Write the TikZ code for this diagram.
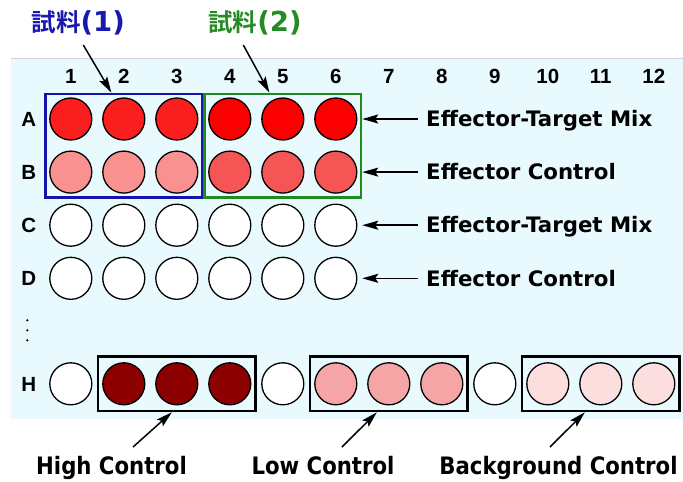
\documentclass[tikz,border=0pt]{standalone}
\usepackage{fontspec}
\setmainfont{DejaVu Sans}
\newfontfamily\cjk{Noto Sans CJK JP}[BoldFont={Noto Sans CJK JP Bold}]
\newfontfamily\labfont{Liberation Sans}
\newfontfamily\condfont{DejaVu Sans}[FakeStretch=0.885]
\usetikzlibrary{arrows.meta,fit}

\definecolor{platebg}{RGB}{232,250,254}
\definecolor{wellA}{RGB}{250,30,30}
\definecolor{wellAA}{RGB}{250,0,0}
\definecolor{wellB}{RGB}{250,145,145}
\definecolor{wellBB}{RGB}{245,85,85}
\definecolor{wellhigh}{RGB}{140,0,0}
\definecolor{welllow}{RGB}{245,165,165}
\definecolor{wellback}{RGB}{252,222,222}
\definecolor{boxblue}{RGB}{20,20,170}
\definecolor{boxgreen}{RGB}{30,140,30}
\definecolor{titleblue}{RGB}{25,25,175}
\definecolor{titlegreen}{RGB}{35,140,35}

\begin{document}
\begin{tikzpicture}[x=1pt,y=-1pt,
  well/.style={circle,draw=black,line width=1.3pt,minimum size=42pt,inner sep=0pt,fill=white},
  grpbox/.style={draw=#1,line width=2.2pt,inner sep=3.7pt},
  ctrlbox/.style={draw=black,line width=2.7pt,inner xsep=4.2pt,inner ysep=5.5pt},
  arr/.style={line width=1.5pt,-{Stealth[length=16pt,width=9pt,inset=3pt]}},
  collab/.style={font=\labfont\bfseries\fontsize{20.5}{20.5}\selectfont,anchor=base,inner sep=0pt},
  sidelab/.style={font=\bfseries\fontsize{21.3}{21.3}\selectfont,anchor=west,inner sep=0pt,text height=15.5pt,text depth=0pt},
  botlab/.style={font=\condfont\bfseries\fontsize{24}{24}\selectfont,anchor=base,inner sep=0pt},
  titlelab/.style={anchor=base,inner sep=0pt,text=#1},
]
\useasboundingbox (0,0) rectangle (683,482);

% plate background
\fill[platebg] (11,58) rectangle (683,419);
\draw[gray!35,line width=0.8pt] (11,58) -- (683,58);

% column numbers
\foreach \c in {1,...,12}
  \node[collab] (col\c) at ({70.8+53*(\c-1)},83) {\c};

% row letters
\node[collab] (rowA) at (28.8,126.3) {A};
\node[collab] (rowB) at (28.8,179.4) {B};
\node[collab] (rowC) at (28.8,232.5) {C};
\node[collab] (rowD) at (28.8,285.6) {D};
\node[collab] (rowH) at (28.8,391.1) {H};
\foreach \k/\yy in {1/320.3,2/330.3,3/340.3}
  \fill (27.3,\yy) circle (1.2pt);

% sample wells, rows A-D
\foreach \c in {1,2,3} {
  \node[well,fill=wellA] (A\c) at ({70.8+53*(\c-1)},119) {};
  \node[well,fill=wellB] (B\c) at ({70.8+53*(\c-1)},172.1) {};
}
\foreach \c in {4,5,6} {
  \node[well,fill=wellAA] (A\c) at ({70.8+53*(\c-1)},119) {};
  \node[well,fill=wellBB] (B\c) at ({70.8+53*(\c-1)},172.1) {};
}
\foreach \c in {1,...,6} {
  \node[well] (C\c) at ({70.8+53*(\c-1)},225.2) {};
  \node[well] (D\c) at ({70.8+53*(\c-1)},278.3) {};
}

% control wells, row H
\foreach \c/\col in {1/white,2/wellhigh,3/wellhigh,4/wellhigh,5/white,6/welllow,7/welllow,8/welllow,9/white,10/wellback,11/wellback,12/wellback}
  \node[well,fill=\col] (H\c) at ({70.8+53*(\c-1)},383.8) {};

% sample groups
\node[grpbox=boxblue,fit=(A1)(B3)] (grp1) {};
\node[grpbox=boxgreen,fit=(A4)(B6)] (grp2) {};

% control groups
\node[ctrlbox,fit=(H2)(H4)] (grpHigh) {};
\node[ctrlbox,fit=(H6)(H8)] (grpLow) {};
\node[ctrlbox,fit=(H10)(H12)] (grpBack) {};

% titles
\node[titlelab=titleblue] (t1) at (78.3,31.5)
  {{\cjk\bfseries\fontsize{24.5}{24.5}\selectfont 試料}{\bfseries\fontsize{27.5}{27.5}\selectfont (1)}};
\node[titlelab=titlegreen] (t2) at (255,31.5)
  {{\cjk\bfseries\fontsize{24.5}{24.5}\selectfont 試料}{\bfseries\fontsize{27.5}{27.5}\selectfont (2)}};
\draw[arr] ([xshift=5pt,yshift=-13.5pt]t1.base) -- ([xshift=67pt]grp1.north west);
\draw[arr] ([xshift=-11.7pt,yshift=-13.5pt]t2.base) -- ([xshift=66pt]grp2.north west);

% row descriptions
\node[sidelab] (lblA) at (426,119) {Effector-Target Mix};
\node[sidelab] (lblB) at (426,172.1) {Effector Control};
\node[sidelab] (lblC) at (426,225.2) {Effector-Target Mix};
\node[sidelab] (lblD) at (426,278.3) {Effector Control};
\foreach \r in {A,B,C,D}
  \draw[arr] ([xshift=-8pt]lbl\r.west) -- (lbl\r.west -| grp2.east);

% control descriptions
\node[botlab] (lblHigh) at (111.5,474) {High Control};
\node[botlab] (lblLow) at (323,474) {Low Control};
\node[botlab] (lblBack) at (558.5,474) {Background Control};
\draw[arr] ([xshift=21.5pt,yshift=27pt]lblHigh.base) -- ([xshift=-5pt]grpHigh.south);
\draw[arr] ([xshift=19pt,yshift=27pt]lblLow.base) -- ([xshift=-12pt]grpLow.south);
\draw[arr] ([xshift=-8.5pt,yshift=27pt]lblBack.base) -- ([xshift=-16pt]grpBack.south);
\end{tikzpicture}
\end{document}
